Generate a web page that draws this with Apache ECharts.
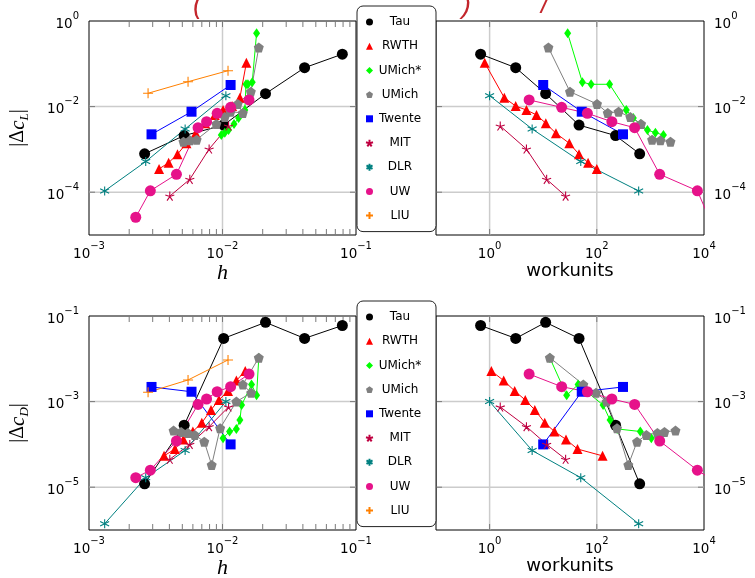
<!DOCTYPE html>
<html>
<head>
<meta charset="utf-8">
<script src="https://cdn.jsdelivr.net/npm/echarts@6/dist/echarts.min.js"></script>
<style>
  html, body { margin: 0; padding: 0; background: #fff; }
  #chart { width: 755px; height: 578px; }
</style>
</head>
<body>
<div id="chart"></div>
<script>
// axis ticks
const hMajor = [1e-3, 1e-2, 1e-1];
const hMinor = [0.002, 0.003, 0.004, 0.005, 0.006, 0.007, 0.008, 0.009,
                0.02, 0.03, 0.04, 0.05, 0.06, 0.07, 0.08, 0.09];
const wMajor = [1, 1e2, 1e4];
const cLMajor = [1e-4, 1e-2, 1];
const cDMajor = [1e-5, 1e-3, 1e-1];

// Tau
const tauH  = [2.61e-3, 5.16e-3, 1.02e-2, 2.10e-2, 4.12e-2, 7.9e-2];
const tauW  = [631, 224, 46.6, 11.1, 3.07, 0.68];
const tauCL = [7.9e-4, 2.1e-3, 3.7e-3, 2.0e-2, 8.1e-2, 0.168];
const tauCD = [1.2e-5, 2.8e-4, 0.030, 0.071, 0.030, 0.060];

// RWTH
const rwthHL = [3.35e-3, 3.95e-3, 4.6e-3, 5.37e-3, 6.3e-3, 7.4e-3, 8.75e-3, 1.01e-2, 1.18e-2, 1.35e-2, 1.51e-2];
const rwthWL = [100, 68.8, 46.6, 30.7, 17.3, 11.2, 7.5, 4.87, 3.07, 1.88, 0.81];
const rwthCL = [3.5e-4, 4.9e-4, 7.7e-4, 1.39e-3, 2.38e-3, 4.07e-3, 6.4e-3, 8.3e-3, 1.03e-2, 1.61e-2, 0.106];
const rwthHD = [3.65e-3, 4.4e-3, 5.1e-3, 6.0e-3, 7.0e-3, 8.2e-3, 9.4e-3, 1.1e-2, 1.27e-2, 1.48e-2];
const rwthWD = [128, 43.6, 26.6, 16.2, 10.7, 6.97, 4.63, 2.94, 1.83, 1.08];
const rwthCD = [5.4e-5, 7.8e-5, 1.31e-4, 2.0e-4, 3.2e-4, 6.4e-4, 1.09e-3, 1.77e-3, 3.1e-3, 5.2e-3];

// UMich*
const umsHL = [9.8e-3, 1.04e-2, 1.11e-2, 1.22e-2, 1.32e-2, 1.47e-2, 1.5e-2, 1.55e-2, 1.67e-2, 1.8e-2];
const umsWL = [1750, 1240, 880, 650, 480, 355, 173, 78.3, 53.8, 28.6];
const umsCL = [2.17e-3, 2.45e-3, 2.84e-3, 3.9e-3, 5.4e-3, 8.3e-3, 0.0332, 0.0332, 0.037, 0.516];
const umsHD = [1.01e-2, 1.13e-2, 1.27e-2, 1.35e-2, 1.39e-2, 1.65e-2, 1.8e-2, 1.87e-2];
const umsWD = [1040, 648, 240, 177, 131, 44.8, 27.4, 13.3];
const umsCD = [1.4e-4, 2.0e-4, 2.3e-4, 3.7e-4, 8.3e-4, 2.5e-3, 1.4e-3, 0.0105];

// UMich
const umHL = [5.1e-3, 5.7e-3, 6.4e-3, 9.0e-3, 1.04e-2, 1.15e-2, 1.42e-2, 1.3e-2, 1.63e-2, 1.87e-2];
const umWL = [2370, 1540, 1076, 670, 422, 255, 160, 101, 31.6, 12.5];
const umCL = [1.51e-3, 1.63e-3, 1.69e-3, 3.92e-3, 5.7e-3, 7.6e-3, 7.1e-3, 0.0115, 0.0223, 0.24];
const umHD = [4.3e-3, 4.9e-3, 5.5e-3, 6.2e-3, 7.3e-3, 8.3e-3, 9.6e-3, 1.27e-2, 1.64e-2, 1.42e-2, 1.87e-2];
const umWD = [2940, 1830, 1352, 841, 564, 387, 238, 153, 97, 56, 13.3];
const umCD = [2.1e-4, 1.95e-4, 1.85e-4, 1.66e-4, 1.16e-4, 3.3e-5, 2.4e-4, 1.0e-3, 1.6e-3, 2.5e-3, 0.0106];

// Twente
const twH  = [2.94e-3, 5.86e-3, 1.15e-2];
const twW  = [308, 52.4, 10.0];
const twCL = [2.25e-3, 7.6e-3, 0.032];
const twCD = [2.2e-3, 1.7e-3, 1.0e-4];

// MIT
const mitH  = [4.03e-3, 5.69e-3, 7.94e-3, 1.11e-2];
const mitW  = [26.2, 11.6, 4.87, 1.58];
const mitCL = [8.1e-5, 2.0e-4, 1.02e-3, 3.52e-3];
const mitCD = [4.5e-5, 1.0e-4, 2.6e-4, 7.5e-4];

// DLR
const dlrH  = [1.31e-3, 2.66e-3, 5.25e-3, 1.06e-2];
const dlrW  = [604, 50.2, 6.22, 1.0];
const dlrCL = [1.07e-4, 5.2e-4, 3.0e-3, 0.018];
const dlrCD = [1.4e-6, 1.67e-5, 7.2e-5, 1.0e-3];

// UW
const uwH  = [2.24e-3, 2.88e-3, 4.52e-3, 6.56e-3, 7.6e-3, 9.12e-3, 1.15e-2, 1.58e-2];
const uwW  = [1.23e4, 7520, 1490, 508, 191, 66.7, 22.1, 5.46];
const uwCL = [2.6e-5, 1.08e-4, 2.62e-4, 3.21e-3, 4.43e-3, 6.97e-3, 9.6e-3, 0.0143];
const uwCD = [1.67e-5, 2.5e-5, 1.2e-4, 8.6e-4, 1.15e-3, 1.7e-3, 2.23e-3, 4.4e-3];

// LIU (no workunits)
const liuH  = [2.77e-3, 5.52e-3, 1.1e-2];
const liuCL = [0.0205, 0.0382, 0.069];
const liuCD = [1.65e-3, 3.2e-3, 9.4e-3];

const FONT = 'DejaVu Sans';
const MATH = 'Liberation Serif';

const PENTAGON = 'path://M0,-10L9.51,-3.09L5.88,8.09L-5.88,8.09L-9.51,-3.09Z';
const STAR = 'path://M0,0L0,-10M0,0L9.51,-3.09M0,0L5.88,8.09M0,0L-5.88,8.09M0,0L-9.51,-3.09';
const ASTERISK = 'path://M0,-10L0,10M-8.66,-5L8.66,5M-8.66,5L8.66,-5';
const PLUS = 'path://M-10,0L10,0M0,-10L0,10';

// lift: [h, workunits, cL], drag: [h, workunits, cD]
const groups = [
  { name: 'Tau', color: '#000000', symbol: 'circle', size: 11,
    lift: [tauH, tauW, tauCL], drag: [tauH, tauW, tauCD] },
  { name: 'RWTH', color: '#ff0000', symbol: 'triangle', size: 10,
    lift: [rwthHL, rwthWL, rwthCL], drag: [rwthHD, rwthWD, rwthCD] },
  { name: 'UMich*', color: '#00ff00', symbol: 'diamond', size: [7, 10],
    lift: [umsHL, umsWL, umsCL], drag: [umsHD, umsWD, umsCD] },
  { name: 'UMich', color: '#808080', symbol: PENTAGON, size: 10,
    lift: [umHL, umWL, umCL], drag: [umHD, umWD, umCD] },
  { name: 'Twente', color: '#0000ff', symbol: 'rect', size: 10,
    lift: [twH, twW, twCL], drag: [twH, twW, twCD] },
  { name: 'MIT', color: '#bf0040', symbol: STAR, size: 9, stroke: true,
    lift: [mitH, mitW, mitCL], drag: [mitH, mitW, mitCD] },
  { name: 'DLR', color: '#008080', symbol: ASTERISK, size: 9, stroke: true,
    lift: [dlrH, dlrW, dlrCL], drag: [dlrH, dlrW, dlrCD] },
  { name: 'UW', color: '#e6128a', symbol: 'circle', size: 11,
    lift: [uwH, uwW, uwCL], drag: [uwH, uwW, uwCD] },
  { name: 'LIU', color: '#ff8000', symbol: PLUS, size: 10, stroke: true,
    lift: [liuH, null, liuCL], drag: [liuH, null, liuCD] }
];

function expOf(v) { return Math.round(Math.log10(v)); }

function tickLabel(majors) {
  const exps = majors.map(expOf);
  return function (v) {
    const e = expOf(v);
    if (exps.indexOf(e) < 0) return '';
    return '{b|10}{s|' + (e < 0 ? '\u2212' + (-e) : String(e)) + '}';
  };
}

const labelRich = {
  b: { fontFamily: FONT, fontSize: 13.5, color: '#000', lineHeight: 20, verticalAlign: 'bottom' },
  s: { fontFamily: FONT, fontSize: 10, color: '#000', lineHeight: 11, verticalAlign: 'top' }
};

// gridlines and tick marks, placed through the axis scales
function frameSeries(idx, xMajor, xMinor, yMajor) {
  return {
    type: 'custom', xAxisIndex: idx, yAxisIndex: idx, z: 1, silent: true, clip: false,
    data: [[xMajor[1], yMajor[1]]],
    renderItem: function (params, api) {
      const cs = params.coordSys;
      const x0 = cs.x, x1 = cs.x + cs.width, y0 = cs.y, y1 = cs.y + cs.height;
      const els = [];
      const gridStyle = { stroke: '#cccccc', lineWidth: 1.5 };
      const tickStyle = { stroke: '#7a7a7a', lineWidth: 1 };
      const seg = (a, b, c, d, st) => els.push({ type: 'line', shape: { x1: a, y1: b, x2: c, y2: d }, style: st });
      xMajor.forEach(v => {
        const x = api.coord([v, yMajor[1]])[0];
        if (x > x0 + 1 && x < x1 - 1) {
          seg(x, y0, x, y1, gridStyle);
          seg(x, y0, x, y0 + 6, tickStyle);
          seg(x, y1, x, y1 - 6, tickStyle);
        }
      });
      xMinor.forEach(v => {
        const x = api.coord([v, yMajor[1]])[0];
        seg(x, y0, x, y0 + 6, tickStyle);
        seg(x, y1, x, y1 - 6, tickStyle);
      });
      yMajor.forEach(v => {
        const y = api.coord([xMajor[1], v])[1];
        if (y > y0 + 1 && y < y1 - 1) {
          seg(x0, y, x1, y, gridStyle);
          seg(x0, y, x0 + 6, y, tickStyle);
          seg(x1, y, x1 - 6, y, tickStyle);
        }
      });
      return { type: 'group', children: els };
    }
  };
}

const panels = [
  { kind: 'lift', xi: 0, grid: { left: 89, top: 21 }, xMajor: hMajor, xMinor: hMinor, yMajor: cLMajor },
  { kind: 'lift', xi: 1, grid: { left: 436, top: 21 }, xMajor: wMajor, xMinor: [], yMajor: cLMajor },
  { kind: 'drag', xi: 0, grid: { left: 89, top: 316 }, xMajor: hMajor, xMinor: hMinor, yMajor: cDMajor },
  { kind: 'drag', xi: 1, grid: { left: 436, top: 316 }, xMajor: wMajor, xMinor: [], yMajor: cDMajor }
];

const series = [];
panels.forEach((p, idx) => {
  series.push(frameSeries(idx, p.xMajor, p.xMinor, p.yMajor));
  groups.forEach(g => {
    const set = g[p.kind];
    const xs = set[p.xi], ys = set[2];
    if (!xs) return;
    series.push({
      name: g.name, type: 'line', xAxisIndex: idx, yAxisIndex: idx, z: 3,
      data: xs.map((x, i) => [x, ys[i]]),
      symbol: g.symbol, symbolSize: g.size, showSymbol: true, clip: true,
      lineStyle: { color: g.color, width: 1 },
      itemStyle: g.stroke
        ? { color: g.color, borderColor: g.color, borderWidth: 1.1 }
        : { color: g.color, borderWidth: 0 },
      emphasis: { disabled: true }
    });
  });
});

function axisName(letter) {
  return '{n||\u0394}{c|c}{l|' + letter + '}{n||}';
}
const nameRich = {
  n: { fontFamily: MATH, fontSize: 20, lineHeight: 26, color: '#000' },
  c: { fontFamily: MATH, fontStyle: 'italic', fontSize: 21, lineHeight: 26, color: '#000' },
  l: { fontFamily: MATH, fontStyle: 'italic', fontSize: 13, lineHeight: 12, verticalAlign: 'bottom', color: '#000' }
};

const xAxis = panels.map((p, idx) => ({
  gridIndex: idx, type: 'log', logBase: 10,
  min: p.xi === 0 ? 1e-3 : 1e-1, max: p.xi === 0 ? 1e-1 : 1e4,
  axisLine: { show: false }, axisTick: { show: false }, splitLine: { show: false },
  axisLabel: { formatter: tickLabel(p.xMajor), rich: labelRich, margin: 6 },
  name: p.xi === 0 ? 'h' : 'workunits', nameLocation: 'middle',
  nameGap: p.xi === 0 ? 22 : 26,
  nameTextStyle: p.xi === 0
    ? { fontFamily: MATH, fontStyle: 'italic', fontSize: 22, color: '#000' }
    : { fontFamily: FONT, fontSize: 18, color: '#000' }
}));

const yAxis = panels.map((p, idx) => ({
  gridIndex: idx, type: 'log', logBase: 10,
  min: p.kind === 'lift' ? 1e-5 : 1e-6, max: p.kind === 'lift' ? 1 : 1e-1,
  position: p.xi === 0 ? 'left' : 'right',
  axisLine: { show: false }, axisTick: { show: false }, splitLine: { show: false },
  axisLabel: { formatter: tickLabel(p.yMajor), rich: labelRich, margin: 10 },
  name: p.xi === 0 ? axisName(p.kind === 'lift' ? 'L' : 'D') : '',
  nameLocation: 'middle', nameRotate: 90, nameGap: 58,
  nameTextStyle: { rich: nameRich }
}));

const legendItems = groups.map(g => ({ name: g.name, icon: g.symbol }));
const legend = [6, 301].map(top => ({
  top: top, left: 357, orient: 'vertical', selectedMode: false,
  data: legendItems,
  itemWidth: 7, itemHeight: 7, itemGap: 12.2,
  padding: [10, 14, 10, 8],
  backgroundColor: '#fff', borderColor: '#222', borderWidth: 1, borderRadius: 6,
  formatter: n => '{t|' + n + '}',
  textStyle: { rich: { t: { width: 44, align: 'center', fontFamily: FONT, fontSize: 12, lineHeight: 14, color: '#000' } } }
}));

// clipped fragments of the red heading above the plot
const headingStyle = { fontFamily: 'Liberation Sans', fontStyle: 'italic', fontSize: 27, fill: '#c3262c', verticalAlign: 'bottom' };
const graphic = [
  { type: 'text', x: 193, y: 19, style: Object.assign({ text: '(' }, headingStyle) },
  { type: 'text', x: 462, y: 19, style: Object.assign({ text: ')' }, headingStyle) },
  { type: 'text', x: 541, y: 19, style: Object.assign({ text: '/' }, headingStyle) }
];

const chart = echarts.init(document.getElementById('chart'), null, { renderer: 'canvas' });
chart.setOption({
  animation: false,
  backgroundColor: '#fff',
  grid: panels.map(p => ({
    left: p.grid.left, top: p.grid.top, width: p.xi === 0 ? 267 : 268, height: 214,
    show: true, borderColor: '#000', borderWidth: 1, backgroundColor: 'transparent',
    containLabel: false, outerBoundsMode: 'none'
  })),
  xAxis: xAxis,
  yAxis: yAxis,
  legend: legend,
  graphic: graphic,
  series: series
});
</script>
</body>
</html>
